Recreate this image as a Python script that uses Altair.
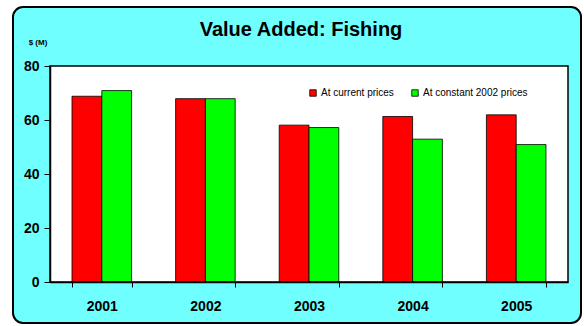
import altair as alt
import pandas as pd

# Value added by the fishing industry, $ millions
years = ["2001", "2002", "2003", "2004", "2005"]
current_prices = [68.8, 67.9, 58.1, 61.3, 61.9]
constant_prices = [70.9, 67.9, 57.2, 52.9, 50.9]
series_names = ["At current prices", "At constant 2002 prices"]
series_colors = ["#FF0000", "#00FF00"]

rows = []
for i, y in enumerate(years):
    rows.append({"year": y, "series": series_names[0], "value": current_prices[i]})
    rows.append({"year": y, "series": series_names[1], "value": constant_prices[i]})
df = pd.DataFrame(rows)

W, H = 518, 216
FONT = "Liberation Sans"
one = pd.DataFrame({"k": [0]})

# Rounded cyan panel behind everything
frame = alt.Chart(one).mark_rect(
    fill="#70FFFF", stroke="black", strokeWidth=2, cornerRadius=10
).encode(
    x=alt.value(-37), x2=alt.value(531), y=alt.value(-59), y2=alt.value(257)
)

# White plotting area
plot_bg = alt.Chart(one).mark_rect(fill="white").encode(
    x=alt.value(0), x2=alt.value(W), y=alt.value(0), y2=alt.value(H)
)

# Thin border round the plotting area, drawn over the bars
plot_border = alt.Chart(one).mark_rect(
    fillOpacity=0, stroke="black", strokeWidth=1.5
).encode(
    x=alt.value(0), x2=alt.value(W), y=alt.value(0), y2=alt.value(H)
)

bars = alt.Chart(df).mark_bar(stroke="black", strokeWidth=1, strokeOpacity=0.8).encode(
    x=alt.X(
        "year:N",
        sort=years,
        scale=alt.Scale(paddingInner=0.425, paddingOuter=0.2125),
        axis=alt.Axis(
            title=None, labelAngle=0, labelFont=FONT, labelFontSize=14,
            labelFontWeight="bold", labelColor="black", labelPadding=12,
            tickBand="extent", tickSize=5, tickColor="black",
            domainColor="black", domainWidth=1.5, zindex=2,
        ),
    ),
    xOffset=alt.XOffset("series:N", sort=series_names, scale=alt.Scale(paddingInner=0, paddingOuter=0)),
    y=alt.Y(
        "value:Q",
        scale=alt.Scale(domain=[0, 80], nice=False),
        axis=alt.Axis(
            title=None, values=[0, 20, 40, 60, 80], grid=False,
            labelFont=FONT, labelFontSize=14, labelFontWeight="bold",
            labelColor="black", labelPadding=5, tickSize=6, tickColor="black",
            domainColor="black", domainWidth=1.5, zindex=2,
        ),
    ),
    color=alt.Color(
        "series:N",
        sort=series_names,
        scale=alt.Scale(domain=series_names, range=series_colors),
        legend=alt.Legend(
            title=None, orient="none", direction="horizontal",
            legendX=258, legendY=22, symbolType="square", symbolSize=42,
            symbolStrokeColor="black", symbolStrokeWidth=0.8,
            labelFont=FONT, labelFontSize=10, labelColor="black",
            labelOffset=3, columnPadding=16, zindex=2,
        ),
    ),
)

title = alt.Chart(one).mark_text(
    text="Value Added: Fishing", font=FONT, fontSize=20, fontWeight="bold",
    color="black", align="center", baseline="middle",
).encode(x=alt.value(251), y=alt.value(-36))

unit = alt.Chart(one).mark_text(
    text="$ (M)", font=FONT, fontSize=8, fontWeight="bold",
    color="black", align="center", baseline="middle",
).encode(x=alt.value(-12), y=alt.value(-23))

chart = alt.layer(frame, plot_bg, bars, plot_border, title, unit).properties(
    width=W, height=H,
    autosize=alt.AutoSizeParams(type="none"),
    padding={"left": 50, "top": 66, "right": 16, "bottom": 44},
    background="white",
).configure_view(stroke=None)

chart.save("out.html", embed_options={"renderer": "svg", "actions": False})
